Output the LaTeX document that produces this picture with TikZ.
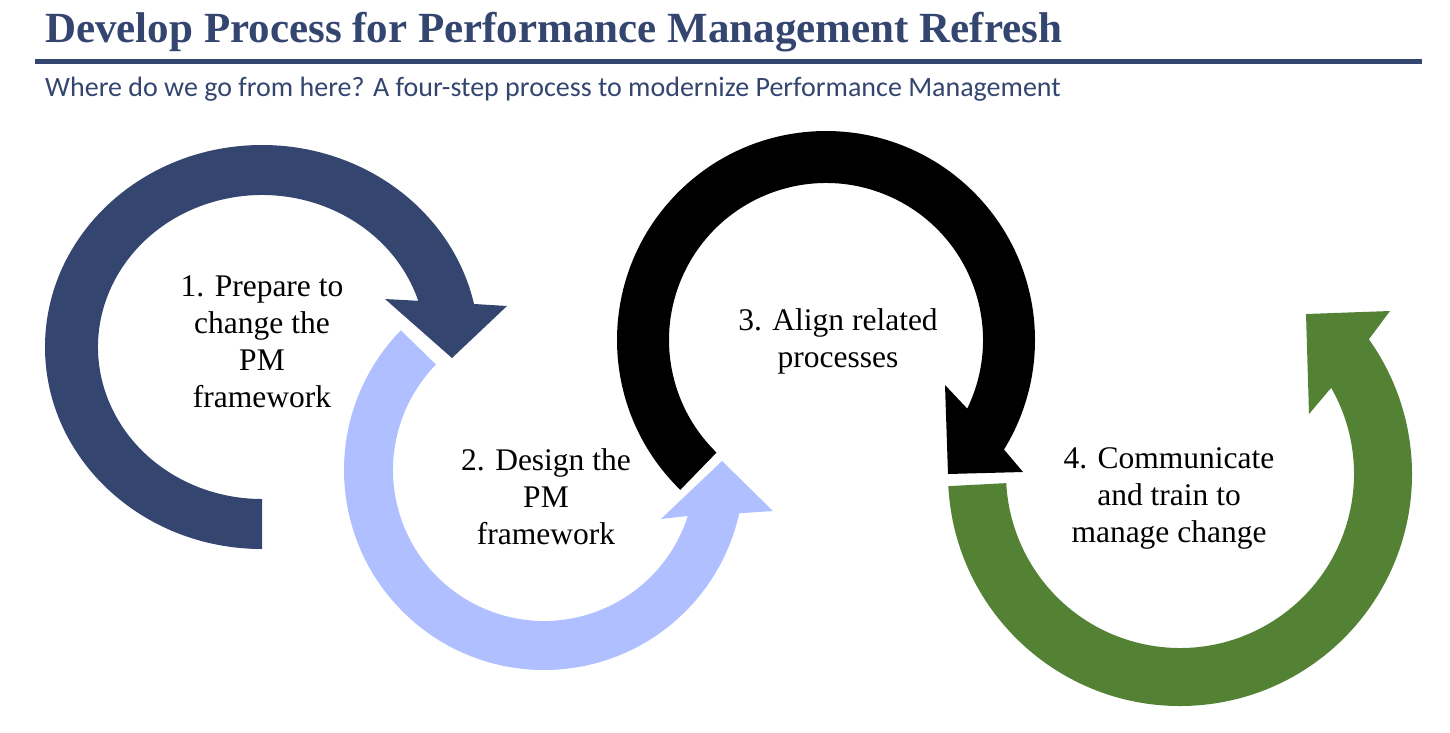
\documentclass[tikz,border=0pt]{standalone}
\usepackage{fontspec}
\setmainfont{Liberation Serif}
\newfontfamily\calib{Carlito}
\usetikzlibrary{calc}
\definecolor{navy}{HTML}{34466F}
\definecolor{lblue}{HTML}{AFBFFF}
\definecolor{pgreen}{HTML}{548235}
\begin{document}
\begin{tikzpicture}[x=1pt,y=-1pt,
  lbl/.style={align=center, font=\fontsize{31.5}{37}\selectfont, text=black, inner sep=0pt},
  hdr/.style={anchor=base west, inner sep=0pt, text=navy}]
\useasboundingbox[fill=white] (0,0) rectangle (1450,732);
\node[hdr, font=\bfseries\fontsize{43}{50}\selectfont] (title) at (45,42) {Develop Process for Performance Management Refresh};
\coordinate (rl) at (35,61);
\coordinate (rr) at (1422,61);
\draw[navy, line width=5pt] (rl) -- (rr);
\node[hdr, font=\calib\fontsize{28}{32}\selectfont] (sub) at (45,96) {Where do we go from here? A four-step process to modernize Performance Management};

% arrow 1
\coordinate (c1) at (262,347);
\fill[navy] ($(c1)+(90:164 and 152)$) -- ($(c1)+(90:217 and 202)$)
  arc[start angle=90,end angle=347.7,x radius=217,y radius=202]
  -- (507,306) -- (452,358) -- (385,299)
  -- ($(c1)+(342.3:164 and 152)$)
  arc[start angle=342.3,end angle=90,x radius=164,y radius=152] -- cycle;

% arrow 2
\coordinate (c2) at (544,470);
\fill[lblue] ($(c2)+(224.3:200)$)
  arc[start angle=224.3,end angle=12.5,radius=200]
  -- (773,511) -- (722,461) -- (661,519)
  -- ($(c2)+(17.7:151)$)
  arc[start angle=17.7,end angle=224.3,radius=151] -- cycle;

% arrow 3
\coordinate (c3) at (826,340);
\fill[black] ($(c3)+(134.2:209)$)
  arc[start angle=134.2,end angle=391.6,radius=209]
  -- (1023,472) -- (948,474) -- (945,385)
  -- ($(c3)+(385.9:157)$)
  arc[start angle=385.9,end angle=134.2,radius=157] -- cycle;

% arrow 4
\coordinate (c4) at (1180,474);
\fill[pgreen] ($(c4)+(177:232)$)
  arc[start angle=177,end angle=-35.5,radius=232]
  -- (1390,311) -- (1306,314) -- (1309,414)
  -- ($(c4)+(-29.7:174)$)
  arc[start angle=-29.7,end angle=177,radius=174] -- cycle;

\node[lbl] (l1) at (262,342) {1. Prepare to\\change the\\PM\\framework};
\node[lbl] (l2) at (546,497) {2. Design the\\PM\\framework};
\node[lbl] (l3) at (838,341) {3. Align related\\processes};
\node[lbl] (l4) at (1169,498) {4. Communicate\\and train to\\manage change};
\end{tikzpicture}
\end{document}
